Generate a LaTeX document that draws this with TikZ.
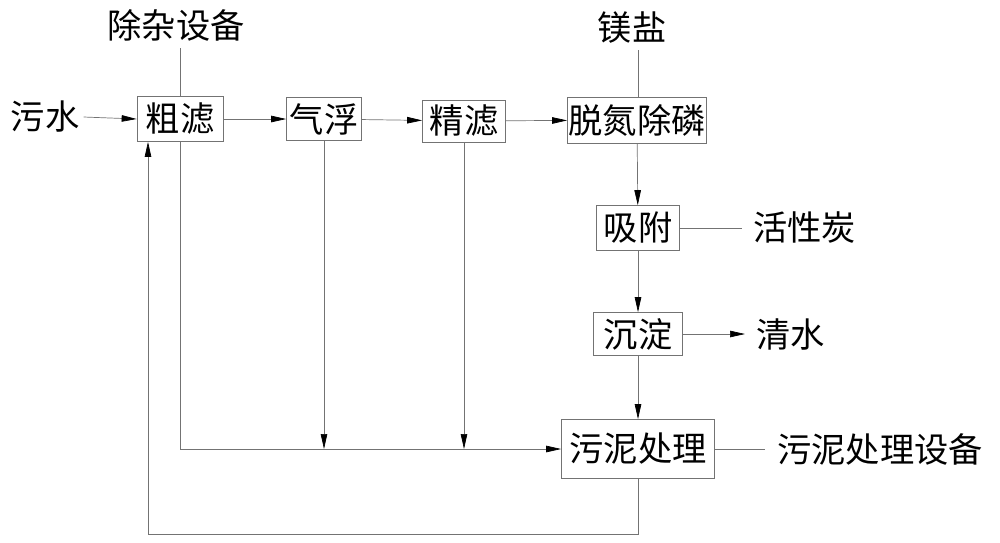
\documentclass[tikz,border=0pt]{standalone}
\usepackage{fontspec}
\newfontfamily\cjk{Noto Sans CJK SC}
\usetikzlibrary{arrows.meta}
\usetikzlibrary{calc}

\begin{document}
\begin{tikzpicture} [x=0.02cm, y=-0.02cm, font=\cjk\fontsize{19.5}{22}\selectfont,
  unit/.style={draw=black!55, inner sep=0, minimum height=0.9cm},
  side/.style={inner sep=0},
  flow/.style={black!55, -{Triangle[length=0.3cm, width=0.13cm, black]}},
  feed/.style={black!55}]
\useasboundingbox (0,0) rectangle (1000,542);
% main line
\node[unit, minimum width=1.72cm] (coarse) at (180,119) {粗滤};
\node[unit, minimum width=1.5cm, minimum height=0.86cm] (float) at (324,119) {气浮};
\node[unit, minimum width=1.66cm, minimum height=0.84cm] (fine) at (464,121) {精滤};
\node[unit, minimum width=2.78cm, minimum height=0.92cm] (denp) at (637,120) {脱氮除磷};
\node[unit, minimum width=1.66cm] (adsorb) at (638,228) {吸附};
\node[unit, minimum width=1.78cm, minimum height=0.86cm] (settle) at (638,334) {沉淀};
\node[unit, minimum width=3.06cm, minimum height=1.18cm] (sludge) at (638,449) {污泥处理};
% outside texts
\node[side] (sewage) at (45,117) {污水};
\node[side] (remover) at (176,25) {除杂设备};
\node[side] (salt) at (632,28) {镁盐};
\node[side, anchor=west] (carbon) at (753,228) {活性炭};
\node[side, anchor=west] (water) at (756,334) {清水};
\node[side, anchor=west] (plant) at (777,449) {污泥处理设备};
\coordinate (remtop) at (180,48);
\coordinate (salttop) at (638,50);
\coordinate (back) at (148,534);
% connectors
\draw[flow] (sewage.east) ++(4,0) -- (coarse.west);
\draw[flow] (coarse) -- (float);
\draw[flow] (float) -- (fine);
\draw[flow] (fine) -- (denp);
\draw[flow] (denp) -- (adsorb);
\draw[flow] (adsorb) -- (settle);
\draw[flow] (settle) -- (sludge);
\draw[feed] (remtop) -- (coarse.north);
\draw[feed] (salttop) -- (salttop |- denp.north);
\draw[feed] (adsorb.east) -- ($(carbon.west)+(-11,0)$);
\draw[flow] (settle.east) -- ($(water.west)+(-11,0)$);
\draw[feed] (sludge.east) -- ($(plant.west)+(-12,0)$);
\draw[flow] (coarse.south) |- (sludge.west);
\draw[flow] (float.south) -- (float.south |- sludge.west);
\draw[flow] (fine.south) -- (fine.south |- sludge.west);
\draw[flow] (sludge.south) |- (back) -- (back |- coarse.south);
\end{tikzpicture}
\end{document}
